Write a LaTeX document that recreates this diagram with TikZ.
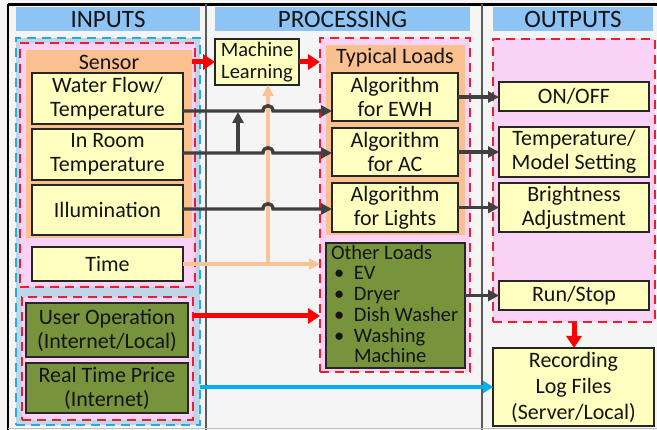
\documentclass[tikz,border=0pt]{standalone}
\usepackage{fontspec}
\setmainfont{Carlito}
\usetikzlibrary{arrows.meta,calc}
\definecolor{hdr}{RGB}{142,195,245}
\definecolor{cyanb}{RGB}{40,170,225}
\definecolor{cyanfill}{RGB}{190,214,234}
\definecolor{redd}{RGB}{235,30,45}
\definecolor{pinkfill}{RGB}{250,210,246}
\definecolor{orangef}{RGB}{250,192,144}
\definecolor{yelf}{RGB}{255,255,192}
\definecolor{olivef}{RGB}{119,147,60}
\definecolor{dgray}{RGB}{64,64,64}
\definecolor{peach}{RGB}{250,195,150}
\definecolor{bluea}{RGB}{0,176,240}
\definecolor{bgc}{RGB}{245,245,245}
\definecolor{colline}{RGB}{90,90,90}
\definecolor{txt}{RGB}{20,20,20}
\begin{document}
\begin{tikzpicture}[x=1pt,y=-1pt,
  every node/.style={inner sep=0pt, outer sep=0pt, text=txt},
  area/.style={anchor=north west},
  hdrbox/.style={area, fill=hdr, font=\fontsize{25}{27}\selectfont},
  cyandash/.style={area, fill=cyanfill, draw=cyanb, line width=2pt, dash pattern=on 9pt off 6pt},
  reddash/.style={area, fill=pinkfill, draw=redd, line width=2pt, dash pattern=on 9pt off 6pt},
  orangebox/.style={area, fill=orangef},
  ybox/.style={area, fill=yelf, draw=black!85, line width=1.8pt, align=center, font=\fontsize{22}{24}\selectfont},
  obox/.style={ybox, fill=olivef},
  lbl/.style={font=\fontsize{22}{24}\selectfont},
  conn/.style={draw=dgray, line width=3.4pt},
  darr/.style={conn, -{Triangle[length=11pt,width=11pt]}},
  parr/.style={draw=peach, line width=3.4pt, -{Triangle[length=11pt,width=11pt]}},
  rarr/.style={draw=red, line width=5pt, -{Triangle[length=12pt,width=15pt]}},
  barr/.style={draw=bluea, line width=4.5pt, -{Triangle[length=10pt,width=12pt]}}
]
\useasboundingbox (0,0) rectangle (657,430);
\fill[bgc] (0,0) rectangle (657,430);
% frame and column lines
\draw[black, line width=2.5pt] (8,4.5) -- (657,4.5);
\draw[black, line width=2.5pt] (8,4.5) -- (8,430);
\draw[colline, line width=2pt] (206,4.5) -- (206,430);
\draw[colline, line width=2pt] (482,4.5) -- (482,430);
\draw[gray!50, line width=1pt] (8,428.5) -- (657,428.5);

% headers
\node[hdrbox, minimum width=184pt, minimum height=24pt] (hin) at (16,7) {INPUTS};
\node[hdrbox, minimum width=255pt, minimum height=24pt] (hproc) at (215,7) {PROCESSING};
\node[hdrbox, minimum width=160pt, minimum height=24pt] (hout) at (493,7) {OUTPUTS};

% inputs
\node[cyandash, minimum width=184pt, minimum height=387pt] (cy) at (16,38) {};
\node[reddash, minimum width=175pt, minimum height=244pt] (rd1) at (20,43) {};
\node[orangebox, minimum width=166pt, minimum height=188pt] (sens) at (26,50) {};
\node[lbl] (senslbl) at (109,62) {Sensor};
\node[ybox, minimum width=151pt, minimum height=51pt] (wf) at (32,73) {Water Flow/\\Temperature};
\node[ybox, minimum width=151pt, minimum height=51pt] (inroom) at (32,129) {In Room\\Temperature};
\node[ybox, minimum width=151pt, minimum height=50pt] (illum) at (32,185) {Illumination};
\node[ybox, minimum width=151pt, minimum height=34pt] (time) at (32,247) {Time};
\node[reddash, minimum width=171pt, minimum height=123pt] (rd2) at (22,297) {};
\node[obox, minimum width=162pt, minimum height=54pt] (userop) at (26,303) {User Operation\\(Internet/Local)};
\node[obox, minimum width=162pt, minimum height=50pt] (rtp) at (26,363) {Real Time Price\\(Internet)};

% processing
\node[ybox, minimum width=84pt, minimum height=46pt, font=\fontsize{20.5}{22.5}\selectfont] (ml) at (215,39) {Machine\\Learning};
\node[reddash, minimum width=150pt, minimum height=334pt] (rd3) at (320,38) {};
\node[orangebox, minimum width=139pt, minimum height=190pt] (typ) at (326,45) {};
\node[lbl] (typlbl) at (395,58) {Typical Loads};
\node[ybox, minimum width=126pt, minimum height=48pt] (ewh) at (332,73) {Algorithm\\for EWH};
\node[ybox, minimum width=126pt, minimum height=48pt] (ac) at (332,128) {Algorithm\\for AC};
\node[ybox, minimum width=126pt, minimum height=49pt] (lights) at (332,183) {Algorithm\\for Lights};
\node[obox, minimum width=139pt, minimum height=125pt] (other) at (326,243) {};
\node[anchor=north west, align=left, font=\fontsize{20.5}{20.7}\selectfont] (otherlbl) at (331,245)
  {Other Loads\\
   \hspace{3pt}\makebox[20pt][l]{\textbullet}EV\\
   \hspace{3pt}\makebox[20pt][l]{\textbullet}Dryer\\
   \hspace{3pt}\makebox[20pt][l]{\textbullet}Dish Washer\\
   \hspace{3pt}\makebox[20pt][l]{\textbullet}Washing\\
   \hspace{3pt}\makebox[20pt][l]{}Machine};

% outputs
\node[reddash, minimum width=162pt, minimum height=283pt] (rd4) at (493,39) {};
\node[ybox, minimum width=150pt, minimum height=29pt] (onoff) at (499,82) {ON/OFF};
\node[ybox, minimum width=150pt, minimum height=50pt] (tempset) at (499,127) {Temperature/\\Model Setting};
\node[ybox, minimum width=150pt, minimum height=49pt] (bright) at (499,183) {Brightness\\Adjustment};
\node[ybox, minimum width=150pt, minimum height=29pt] (runstop) at (499,281) {Run/Stop};
\node[ybox, minimum width=161pt, minimum height=78pt, font=\fontsize{22}{26}\selectfont] (rec) at (493,348) {Recording\\Log Files\\(Server/Local)};

% helper coordinates
\coordinate (hx) at (268,0);
\coordinate (vx) at (238,0);
\coordinate (y1) at (0,111);
\coordinate (y2) at (0,153);
\coordinate (y3) at (0,209);
\coordinate (yu) at (0,316);

% peach (time -> ML and other loads)
\draw[parr] (hx |- time.east) -- (hx |- ml.south);
\draw[parr] (time.east) -- (time.east -| rd3.west);

% dark connectors with hops
\draw[darr] (wf.east |- y1) -- ($(hx |- y1)+(-5,0)$) .. controls +(0,-7) and +(0,-7) .. ($(hx |- y1)+(5,0)$) -- (ewh.west |- y1);
\draw[darr] (inroom.east |- y2) -- ($(hx |- y2)+(-5,0)$) .. controls +(0,-7) and +(0,-7) .. ($(hx |- y2)+(5,0)$) -- (ac.west |- y2);
\draw[darr] (illum.east |- y3) -- ($(hx |- y3)+(-5,0)$) .. controls +(0,-7) and +(0,-7) .. ($(hx |- y3)+(5,0)$) -- (lights.west |- y3);
\draw[darr, shorten >=1pt] (vx |- y2) -- (vx |- y1);

% outputs connectors
\draw[darr] (ewh.east) -- (ewh.east -| onoff.west);
\draw[darr] (ac.east) -- (ac.east -| tempset.west);
\draw[darr] (lights.east) -- (lights.east -| bright.west);
\draw[darr] (runstop.west -| other.east) -- (runstop.west);

% red arrows
\draw[rarr] (sens.east |- ml.west) -- (ml.west);
\draw[rarr] (ml.east) -- (ml.east -| rd3.west);
\draw[rarr] (rd2.east |- yu) -- (rd3.west |- yu);
\draw[rarr] (rd4.south) -- (rd4.south |- rec.north);

% blue arrow
\draw[barr] (rec.west -| cy.east) -- (rec.west);
\end{tikzpicture}
\end{document}
